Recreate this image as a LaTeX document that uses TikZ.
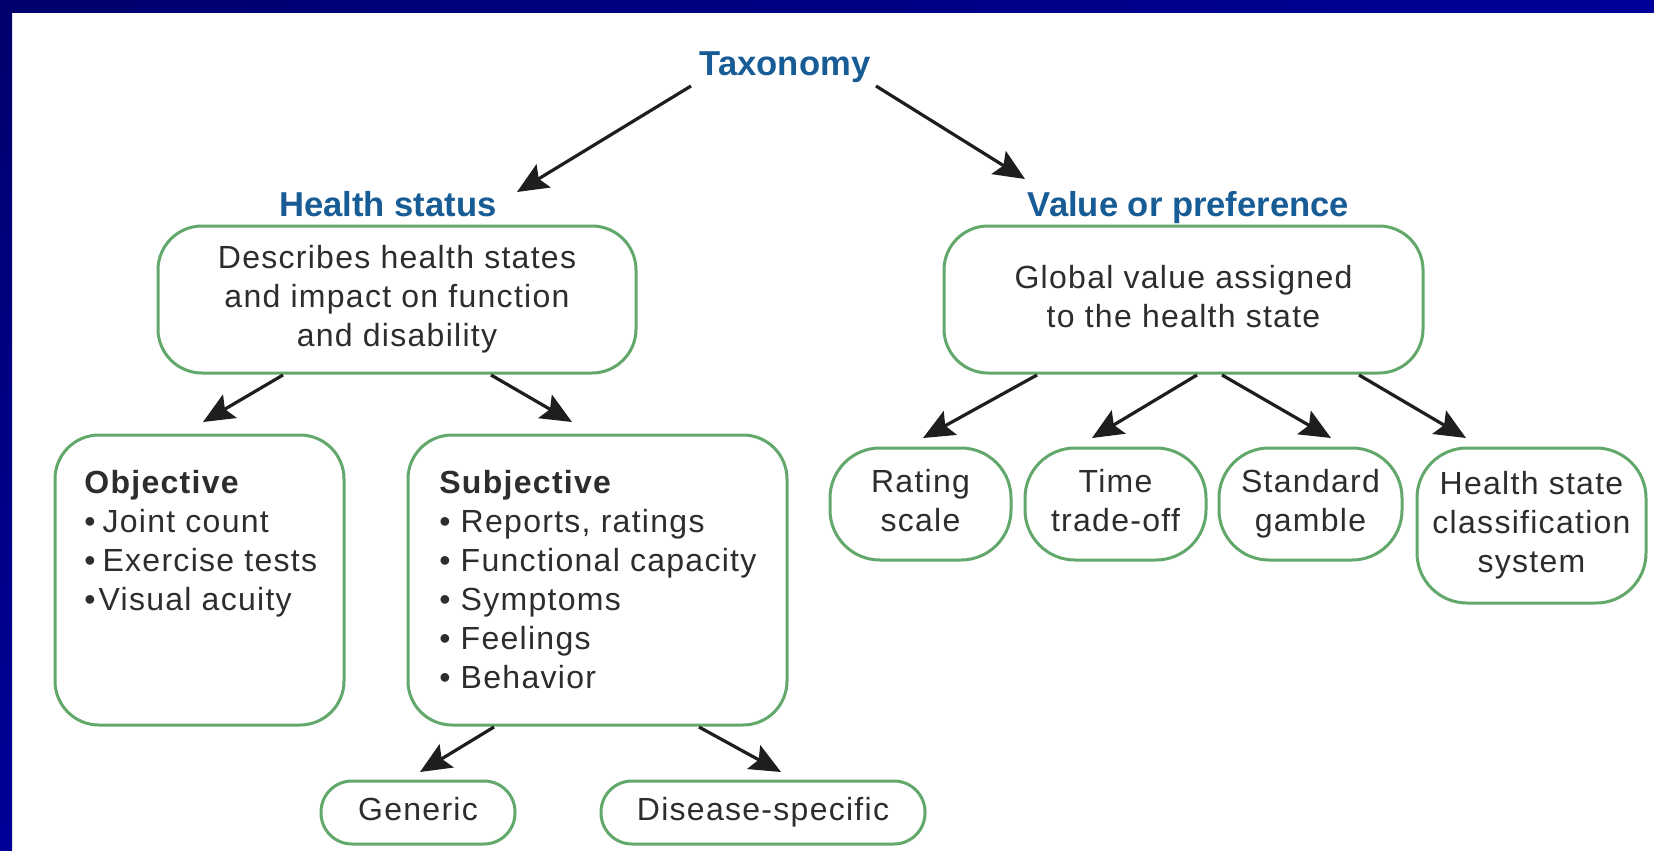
\documentclass[tikz,border=0pt]{standalone}
\usepackage{fontspec}
\setmainfont{Liberation Sans}
\newfontfamily\bodyfont{Liberation Sans}[LetterSpace=4]
\usetikzlibrary{arrows.meta,calc}
\definecolor{frameA}{RGB}{0,0,110}
\definecolor{frameB}{RGB}{0,0,153}
\definecolor{headblue}{RGB}{24,92,150}
\definecolor{boxgreen}{RGB}{98,168,106}
\definecolor{txtgray}{RGB}{45,45,45}
\definecolor{arrowgray}{RGB}{30,30,30}
\begin{document}
\begin{tikzpicture}[x=0.5pt,y=-0.5pt,
  head/.style={font=\fontsize{17.3}{20}\selectfont\bfseries, text=headblue, inner sep=0pt},
  body/.style={font=\bodyfont\fontsize{16}{19.5}\selectfont, text=txtgray},
  gbox/.style={draw=boxgreen, line width=1.5pt, fill=white, body, align=center, inner sep=0pt, outer sep=0pt},
  bigbox/.style={gbox, rounded corners=22pt},
  pill/.style={gbox, rounded corners=15.5pt, minimum height=31.5pt},
  rbox/.style={gbox, rounded corners=25pt, minimum height=56pt, minimum width=90.5pt},
  listtxt/.style={body, anchor=north west, inner sep=0pt, align=left},
  arr/.style={draw=arrowgray, line width=1.6pt, -{Stealth[length=15.5pt,width=13.5pt,inset=2.8pt]}}
]
\useasboundingbox (0,0) rectangle (1654,851);
\fill[white] (0,0) rectangle (1654,851);
\shade[left color=frameA, right color=frameB] (0,0) rectangle (1654,12);
\shade[top color=frameA, bottom color=frameB] (0,0) rectangle (12,851);

% headings
\node[head, anchor=base] (tax) at (785,75) {Taxonomy};
\node[head, anchor=base] (hslab) at (388,216) {Health status};
\node[head, anchor=base] (vplab) at (1188.5,216) {Value or preference};

% main boxes
\node[bigbox, minimum width=239pt, minimum height=73.5pt] (hsbox) at (397,299.5)
  {Describes health states\\and impact on function\\and disability};
\node[bigbox, minimum width=239.5pt, minimum height=73.5pt] (vpbox) at (1183.5,299.5)
  {Global value assigned\\to the health state\vphantom{g}};

% objective / subjective
\node[bigbox, minimum width=144.5pt, minimum height=145pt] (obj) at (199.5,580) {};
\node[bigbox, minimum width=189.5pt, minimum height=145pt] (subj) at (597.5,580) {};
\node[listtxt] (objtxt) at (84,470)
  {\textbf{Objective}\\\textbullet\hspace{3.5pt}Joint count\\\textbullet\hspace{3.5pt}Exercise tests\\\textbullet\hspace{1.5pt}Visual acuity};
\node[listtxt] (subjtxt) at (439,470)
  {\textbf{Subjective}\\\textbullet\ Reports, ratings\\\textbullet\ Functional capacity\\\textbullet\ Symptoms\\\textbullet\ Feelings\\\textbullet\ Behavior};

% bottom pills
\node[pill, minimum width=97pt] (gen) at (418,812.5) {Generic\vphantom{g}};
\node[pill, minimum width=162pt] (dis) at (763,812.5) {Disease-specific};

% value boxes
\node[rbox] (rate) at (920.5,504) {Rating\\scale\vphantom{g}};
\node[rbox] (time) at (1115.5,504) {Time\\trade-off\vphantom{g}};
\node[rbox, minimum width=91.5pt] (std) at (1310.5,504) {Standard\\gamble};
\node[rbox, minimum width=114.5pt, minimum height=77.5pt] (hscs) at (1531.5,525.5)
  {Health state\\classification\\system};

% arrows
\draw[arr] ($(tax.base)+(-94,11)$) -- ($(hslab.base)+(129,-24)$);
\draw[arr] ($(tax.base)+(91,11)$) -- ($(vplab.base)+(-163.5,-37)$);
\draw[arr] ($(hsbox.south west)+(125,2)$) -- ($(obj.north west)+(148,-13)$);
\draw[arr] ($(hsbox.south west)+(333,2)$) -- ($(subj.north west)+(164,-13)$);
\draw[arr] ($(subj.south west)+(86,2)$) -- ($(gen.north west)+(99,-9)$);
\draw[arr] ($(subj.south west)+(291,2)$) -- ($(dis.north west)+(180,-9)$);
\draw[arr] ($(vpbox.south west)+(93,2)$) -- ($(rate.north west)+(93,-10)$);
\draw[arr] ($(vpbox.south west)+(253,2)$) -- ($(time.north west)+(67,-10)$);
\draw[arr] ($(vpbox.south west)+(278,2)$) -- ($(std.north west)+(112,-10)$);
\draw[arr] ($(vpbox.south west)+(415,2)$) -- ($(hscs.north west)+(49,-10)$);
\end{tikzpicture}
\end{document}
